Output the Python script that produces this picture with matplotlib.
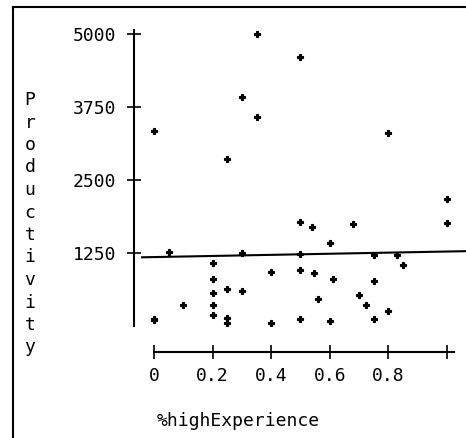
import numpy as np
import matplotlib
matplotlib.use("Agg")
import matplotlib.pyplot as plt
from matplotlib.lines import Line2D

# values
experience = [0.35, 0.5, 0.3, 0.35, 0, 0.25, 0.8, 1.0, 0.5, 1.0,
              0.54, 0.68, 0.6, 0.05, 0.3, 0.5, 0.75, 0.83, 0.2, 0.85,
              0.4, 0.5, 0.545, 0.2, 0.61, 0.75, 0.25, 0.3, 0.2, 0.7,
              0.56, 0.1, 0.2, 0.725, 0.8, 0.2, 0, 0, 0.25, 0.25,
              0.4, 0.5, 0.6, 0.75]
productivity = [5000, 4610, 3915, 3580, 3340, 2865, 3300, 2180, 1775, 1770,
                1700, 1740, 1425, 1265, 1245, 1230, 1215, 1215, 1085, 1050,
                920, 955, 913, 810, 810, 775, 640, 605, 565, 535,
                470, 365, 365, 365, 262, 194, 100, 115, 137, 46,
                57, 125, 90, 125]

# fitted line (intercept, slope) as drawn in the picture
fit_intercept = 1180
fit_slope = 95

xticks = [0, 0.2, 0.4, 0.6, 0.8, 1.0]
xtick_labels = ["0", "0.2", "0.4", "0.6", "0.8", ""]
yticks = [1250, 2500, 3750, 5000]
ytick_labels = ["1250", "2500", "3750", "5000"]
x_label = "%highExperience"
y_label = "Productivity"

W, H = 466, 438
font = "DejaVu Sans Mono"
fs = 13

fig = plt.figure(figsize=(W / 100, H / 100), dpi=100)
xlim = (-0.045, 1.065)
ylim = (0, 5100)
ax = fig.add_axes([140.8 / W, (H - 326) / H, (466 - 140.8) / W, 297.9 / H])
ax.set_xlim(xlim)
ax.set_ylim(ylim)

ax.plot(experience, productivity, linestyle="none", marker="P",
        markersize=5, color="black", markeredgecolor="black",
        markeredgewidth=0.8)
xs = np.array(xlim)
ax.plot(xs, fit_intercept + fit_slope * xs, color="black", lw=1.5)

# detached axis lines like the old stat package
for s in ["top", "right"]:
    ax.spines[s].set_visible(False)
ax.spines["left"].set_position(("outward", 6.8 * 0.72))
ax.spines["bottom"].set_position(("outward", 26 * 0.72))
ax.spines["left"].set_bounds(0, 5070)
ax.spines["bottom"].set_bounds(0, 1.024)
ax.spines["left"].set_linewidth(1.5)
ax.spines["bottom"].set_linewidth(1.5)

ax.set_xticks(xticks)
ax.set_xticklabels(xtick_labels, fontfamily=font, fontsize=fs)
ax.set_yticks(yticks)
ax.set_yticklabels(ytick_labels, fontfamily=font, fontsize=fs)
ax.tick_params(axis="both", direction="inout", length=9.5, width=1.2)
ax.tick_params(axis="y", pad=8)
ax.tick_params(axis="x", pad=6)

fig.text(157 / W, 1 - 421 / H, x_label, fontfamily=font, fontsize=fs,
         ha="left", va="center")
for i, ch in enumerate(y_label):
    fig.text(30 / W, 1 - (100 + i * 22.5) / H, ch, fontfamily=font,
             fontsize=fs, ha="center", va="center")

# page frame: only left and top edges show in the scan
fig.add_artist(Line2D([13 / W, 13 / W], [0, 1 - 7 / H], color="black", lw=1.5))
fig.add_artist(Line2D([13 / W, 1], [1 - 7 / H, 1 - 7 / H], color="black", lw=1.5))

fig.savefig("out.png", dpi=100)
